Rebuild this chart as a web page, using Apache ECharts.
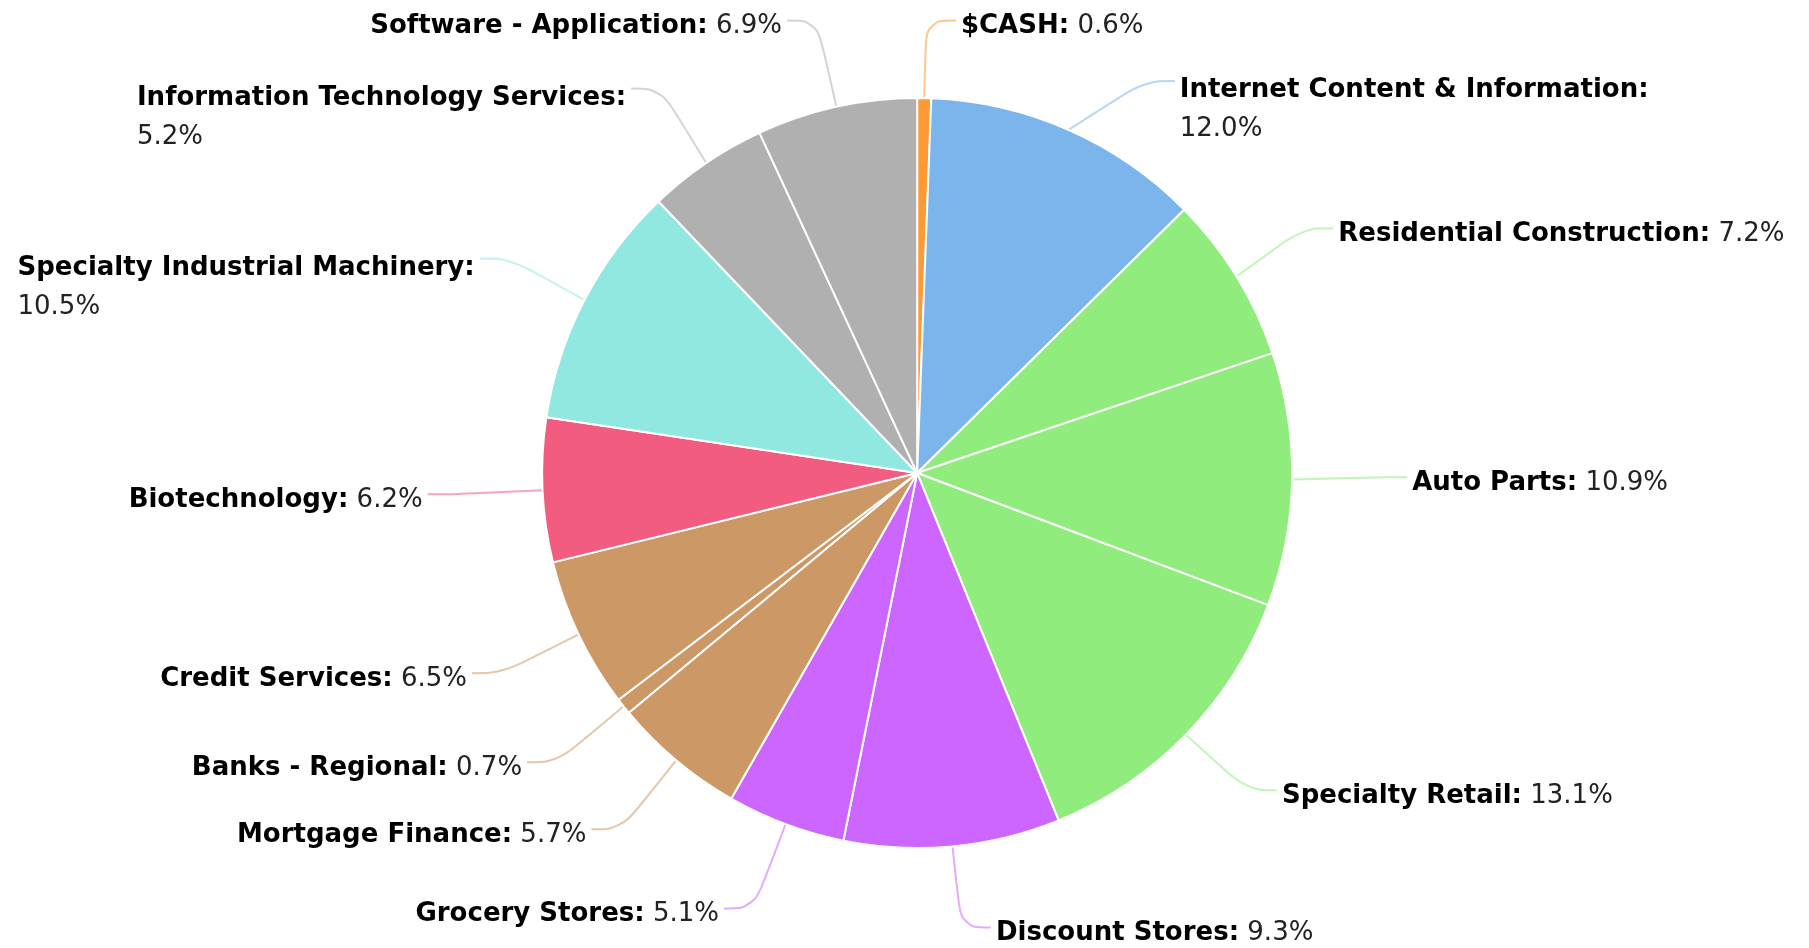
<!DOCTYPE html>
<html>
<head>
<meta charset="utf-8">
<title>Portfolio by industry</title>
<script src="https://cdn.jsdelivr.net/npm/echarts@6/dist/echarts.min.js"></script>
<style>
  html, body { margin: 0; padding: 0; background: #fff; }
  #chart { width: 1809px; height: 948px; }
</style>
</head>
<body>
<div id="chart"></div>
<script>
// industries, clockwise from 12 o'clock
const industries = [
  '$CASH',
  'Internet Content & Information',
  'Residential Construction',
  'Auto Parts',
  'Specialty Retail',
  'Discount Stores',
  'Grocery Stores',
  'Mortgage Finance',
  'Banks - Regional',
  'Credit Services',
  'Biotechnology',
  'Specialty Industrial Machinery',
  'Information Technology Services',
  'Software - Application'
];
const weights = [0.6, 12.0, 7.2, 10.9, 13.1, 9.3, 5.1, 5.7, 0.7, 6.5, 6.2, 10.5, 5.2, 6.9];

// sector colours
const sliceColors = [
  '#ff9933', '#7cb5ec', '#90ed7d', '#90ed7d', '#90ed7d', '#cc66ff', '#cc66ff',
  '#cc9966', '#cc9966', '#cc9966', '#f15c80', '#91e8e1', '#b0b0b0', '#b0b0b0'
];

const chart = echarts.init(document.getElementById('chart'));

const pieData = industries.map((name, i) => ({
  name: name,
  value: weights[i],
  itemStyle: { color: sliceColors[i] },
  labelLine: { lineStyle: { color: sliceColors[i] } }
}));

const option = {
  animation: false,
  series: [
    {
      type: 'pie',
      center: ['50.7%', '49.9%'],
      radius: 375,
      startAngle: 90,
      clockwise: true,
      data: pieData,
      itemStyle: {
        borderColor: '#fff',
        borderWidth: 2
      },
      label: {
        show: true,
        fontFamily: 'DejaVu Sans',
        fontSize: 26,
        lineHeight: 39,
        color: '#000',
        formatter: (p) => {
          // long names wrap the value onto a second line
          const sep = p.name.length > 26 ? '\n' : ' ';
          return '{n|' + p.name + ':}' + sep + '{v|' + p.value.toFixed(1) + '%}';
        },
        rich: {
          n: { fontFamily: 'DejaVu Sans', fontSize: 26, fontWeight: 'bold', color: '#000', lineHeight: 39, align: 'left' },
          v: { fontFamily: 'DejaVu Sans', fontSize: 26, color: '#222', lineHeight: 39, align: 'left' }
        }
      },
      labelLine: {
        show: true,
        length: 90,
        length2: 30,
        smooth: 0.4,
        lineStyle: { width: 2, opacity: 0.55 }
      },
      // labels sit a little below the line end; two-line ones hang from their first line
      labelLayout: (p) => (p.text && p.text.indexOf('\n') >= 0 ? { dy: 29 } : { dy: 6 })
    }
  ]
};

chart.setOption(option);
</script>
</body>
</html>
